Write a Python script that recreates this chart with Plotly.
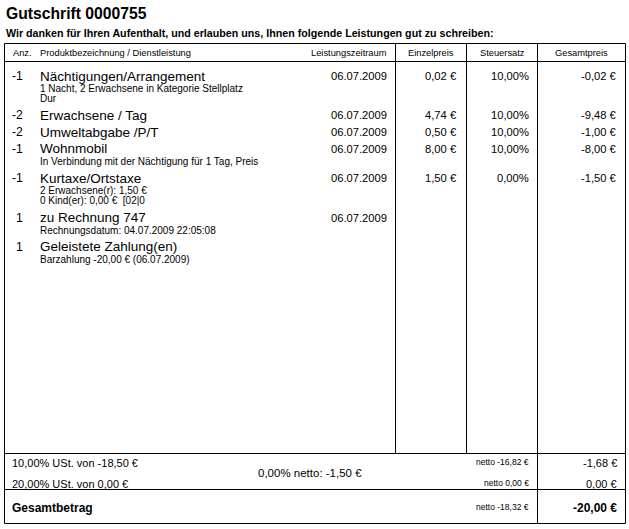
import plotly.graph_objects as go

# ---------------- data ----------------
title = "Gutschrift 0000755"
intro = "Wir danken für Ihren Aufenthalt, und erlauben uns, Ihnen folgende Leistungen gut zu schreiben:"

headers = ["Anz.", "Produktbezeichnung / Dienstleistung", "Leistungszeitraum",
           "Einzelpreis", "Steuersatz", "Gesamtpreis"]

quantities = ["-1", "-2", "-2", "-1", "-1", "1", "1"]
items = ["Nächtigungen/Arrangement", "Erwachsene / Tag", "Umweltabgabe /P/T",
         "Wohnmobil", "Kurtaxe/Ortstaxe", "zu Rechnung 747", "Geleistete Zahlung(en)"]
details = [
    ["1 Nacht, 2 Erwachsene in Kategorie Stellplatz", "Dur"],
    [],
    [],
    ["In Verbindung mit der Nächtigung für 1 Tag, Preis"],
    ["2 Erwachsene(r): 1,50 €", "0 Kind(er): 0,00 €  [02|0"],
    ["Rechnungsdatum: 04.07.2009 22:05:08"],
    ["Barzahlung -20,00 € (06.07.2009)"],
]
dates = ["06.07.2009", "06.07.2009", "06.07.2009", "06.07.2009", "06.07.2009", "06.07.2009", ""]
unit_prices = ["0,02 €", "4,74 €", "0,50 €", "8,00 €", "1,50 €", "", ""]
tax_rates = ["10,00%", "10,00%", "10,00%", "10,00%", "0,00%", "", ""]
totals = ["-0,02 €", "-9,48 €", "-1,00 €", "-8,00 €", "-1,50 €", "", ""]

vat_lines = ["10,00% USt. von -18,50 €", "20,00% USt. von 0,00 €"]
vat_netto = ["netto -16,82 €", "netto 0,00 €"]
vat_amounts = ["-1,68 €", "0,00 €"]
zero_rate_note = "0,00% netto: -1,50 €"
total_label = "Gesamtbetrag"
total_netto = "netto -18,32 €"
total_amount = "-20,00 €"

# ---------------- layout ----------------
W, H = 629, 529
FONT = "Liberation Sans, Arial, sans-serif"
BLACK = "#000000"

fig = go.Figure()
fig.update_layout(
    width=W, height=H,
    margin=dict(l=0, r=0, t=0, b=0),
    paper_bgcolor="white", plot_bgcolor="white",
    xaxis=dict(range=[0, W], visible=False, fixedrange=True),
    yaxis=dict(range=[H, 0], visible=False, fixedrange=True),
    showlegend=False,
)

def txt(x, y, s, size, anchor="left", bold=False):
    fig.add_annotation(
        x=x, y=y, xref="x", yref="y", text=f"<b>{s}</b>" if bold else s,
        showarrow=False, xanchor=anchor, yanchor="middle",
        font=dict(family=FONT, size=size, color=BLACK), borderpad=0,
    )

def line(x0, y0, x1, y1):
    fig.add_shape(type="line", x0=x0, y0=y0, x1=x1, y1=y1, xref="x", yref="y",
                  line=dict(color=BLACK, width=1))

# geometry
L, R = 4.5, 625.5
TOP, HEAD_B, ITEMS_B, VAT_B, BOT = 43.5, 61.5, 453.5, 489.5, 523.5
C1, C2, C3 = 395.5, 466.5, 537.5

# frame
line(L, TOP, R, TOP)
line(L, BOT, R, BOT)
line(L, TOP, L, BOT)
line(R, TOP, R, BOT)
line(L, HEAD_B, R, HEAD_B)
line(L, ITEMS_B, R, ITEMS_B)
line(L, VAT_B, R, VAT_B)
line(C1, TOP, C1, ITEMS_B)
line(C2, TOP, C2, ITEMS_B)
line(C3, TOP, C3, BOT)

# title
txt(5, 13.5, title, 15.7, bold=True)
txt(5, 33, intro, 10.7, bold=True)

# header
HS = 9.3
hy = 53
txt(12, hy, headers[0], HS)
txt(39, hy, headers[1], HS)
txt(388, hy, headers[2], HS, anchor="right")
txt((C1 + C2) / 2, hy, headers[3], HS, anchor="center")
txt((C2 + C3) / 2, hy, headers[4], HS, anchor="center")
txt((C3 + R) / 2, hy, headers[5], HS, anchor="center")

# rows
MAIN = 13.5
NUM = 11.2
SUB = 10
y = 76
for i in range(len(items)):
    txt(24, y, quantities[i], NUM + 1, anchor="right")
    txt(39, y, items[i], MAIN)
    txt(388, y, dates[i], NUM, anchor="right")
    txt(458, y, unit_prices[i], NUM, anchor="right")
    txt(530, y, tax_rates[i], NUM, anchor="right")
    txt(618, y, totals[i], NUM, anchor="right")
    last = y
    for j, d in enumerate(details[i]):
        dy = y + 12.5 + 10 * j
        txt(39, dy, d, SUB)
        last = dy
    y = last + 16.8

# VAT summary
vys = [463, 484]
for k in range(2):
    txt(11, vys[k], vat_lines[k], 11)
    txt(530, vys[k] - 1.5, vat_netto[k], 8.5, anchor="right")
    txt(618, vys[k], vat_amounts[k], 11, anchor="right")
txt(310, 473, zero_rate_note, 11.5, anchor="center")

# total
ty = 508
txt(11, ty, total_label, 12, bold=True)
txt(530, ty - 1.5, total_netto, 8.5, anchor="right")
txt(618, ty, total_amount, 12, anchor="right", bold=True)

fig.write_html("out.html", config={"displayModeBar": False},
               post_script="document.body.style.margin='0';")
